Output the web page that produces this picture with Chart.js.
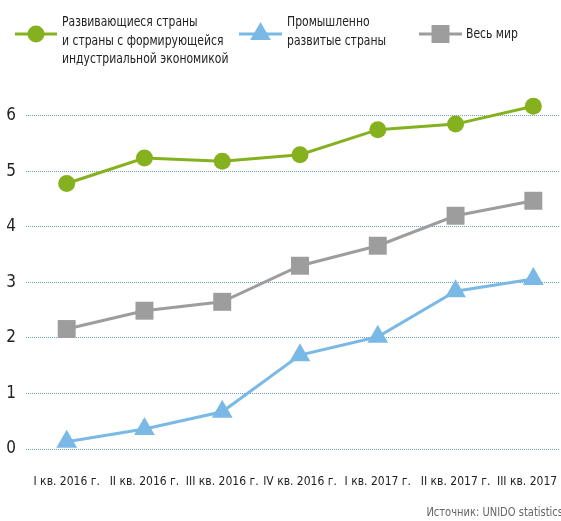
<!DOCTYPE html>
<html>
<head>
<meta charset="utf-8">
<script src="https://cdn.jsdelivr.net/npm/chart.js@4/dist/chart.umd.min.js"></script>
<style>
html,body{margin:0;padding:0;background:#fff;}
#wrap{position:relative;width:561px;height:521px;}
</style>
</head>
<body>
<div id="wrap"><canvas id="c" width="561" height="521"></canvas></div>
<script>
const categories = ["I кв. 2016 г.", "II кв. 2016 г.", "III кв. 2016 г.", "IV кв. 2016 г.", "I кв. 2017 г.", "II кв. 2017 г.", "III кв. 2017 г."];
const developing = [4.78, 5.24, 5.18, 5.30, 5.75, 5.85, 6.17];
const industrial = [0.13, 0.36, 0.67, 1.69, 2.02, 2.84, 3.06];
const world = [2.16, 2.49, 2.65, 3.30, 3.66, 4.20, 4.47];
const yTicks = [0, 1, 2, 3, 4, 5, 6];
const seriesLabels = [
  ["Развивающиеся страны", "и страны с формирующейся", "индустриальной экономикой"],
  ["Промышленно", "развитые страны"],
  ["Весь мир"]
];
const sourceText = "Источник: UNIDO statistics";

const FONT = "'Liberation Sans Narrow', 'DejaVu Sans Condensed', sans-serif";
const GREEN = "#86b11f", BLUE = "#7ab9e6", GRAY = "#9d9d9d";

const toPts = arr => arr.map((v, i) => ({x: i, y: v}));

const legendPlugin = {
  id: 'customLegend',
  afterDraw(chart) {
    const ctx = chart.ctx;
    const items = [
      {x0: 15, x1: 57, y: 34, tx: 62, ds: 0},
      {x0: 239, x1: 282, y: 34, tx: 287, ds: 1},
      {x0: 419, x1: 462, y: 34, tx: 466, ds: 2}
    ];
    ctx.save();
    items.forEach(it => {
      const ds = chart.data.datasets[it.ds];
      ctx.strokeStyle = ds.borderColor;
      ctx.lineWidth = 3;
      ctx.beginPath(); ctx.moveTo(it.x0, it.y); ctx.lineTo(it.x1, it.y); ctx.stroke();
      ctx.fillStyle = ds.pointBackgroundColor;
      ctx.strokeStyle = ds.pointBackgroundColor;
      Chart.helpers.drawPoint(ctx, {pointStyle: ds.pointStyle, radius: ds.pointRadius, borderWidth: 0, rotation: 0}, (it.x0 + it.x1) / 2, it.y);
      ctx.fillStyle = "#222";
      ctx.font = "14.5px " + FONT;
      ctx.textBaseline = "middle";
      ctx.textAlign = "left";
      const lines = ds.label;
      const lh = 18.5;
      const startY = lines.length === 1 ? it.y : 22.5;
      lines.forEach((ln, k) => {
        ctx.save();
        ctx.translate(it.tx, startY + k * lh);
        ctx.scale(0.83, 1);
        ctx.fillText(ln, 0, 0);
        ctx.restore();
      });
    });
    ctx.fillStyle = "#666";
    ctx.font = "12px " + FONT;
    ctx.textAlign = "right";
    ctx.textBaseline = "middle";
    ctx.save();
    ctx.translate(563, 513);
    ctx.scale(0.92, 1);
    ctx.fillText(sourceText, 0, 0);
    ctx.restore();
    ctx.restore();
  }
};

new Chart(document.getElementById('c'), {
  type: 'line',
  data: {
    datasets: [
      {label: seriesLabels[0], data: toPts(developing), borderColor: GREEN, backgroundColor: GREEN, pointBackgroundColor: GREEN, pointBorderWidth: 0, pointStyle: 'circle', pointRadius: 8.5, borderWidth: 3, clip: false},
      {label: seriesLabels[1], data: toPts(industrial), borderColor: BLUE, backgroundColor: BLUE, pointBackgroundColor: BLUE, pointBorderWidth: 0, pointStyle: 'triangle', pointRadius: 12, borderWidth: 3, clip: false},
      {label: seriesLabels[2], data: toPts(world), borderColor: GRAY, backgroundColor: GRAY, pointBackgroundColor: GRAY, pointBorderWidth: 0, pointStyle: 'rect', pointRadius: 12.7, borderWidth: 3, clip: false}
    ]
  },
  options: {
    responsive: false,
    animation: false,
    layout: {autoPadding: false, padding: {top: 88, bottom: 24, left: 0, right: 1}},
    plugins: {legend: {display: false}, tooltip: {enabled: false}},
    scales: {
      x: {
        type: 'linear',
        min: -0.523,
        max: 6.343,
        grid: {display: false, drawTicks: false},
        border: {display: false},
        afterBuildTicks(scale) { scale.ticks = categories.map((c, i) => ({value: i})); },
        afterFit(scale) { scale.height = 48; scale.paddingLeft = 0; scale.paddingRight = 0; },
        ticks: {
          autoSkip: false, maxRotation: 0, padding: 26, color: "#222",
          font: {size: 12, family: FONT},
          callback: (v) => categories[v]
        }
      },
      y: {
        min: 0, max: 6.5,
        afterBuildTicks(scale) { scale.ticks = yTicks.map(v => ({value: v})); },
        afterFit(scale) { scale.width = 26; },
        grid: {color: "#6b9fb2", lineWidth: 1, drawTicks: false},
        border: {display: false, dash: [1, 1]},
        ticks: {padding: 10, color: "#222", font: {size: 17, family: FONT}}
      }
    }
  },
  plugins: [legendPlugin]
});
</script>
</body>
</html>
